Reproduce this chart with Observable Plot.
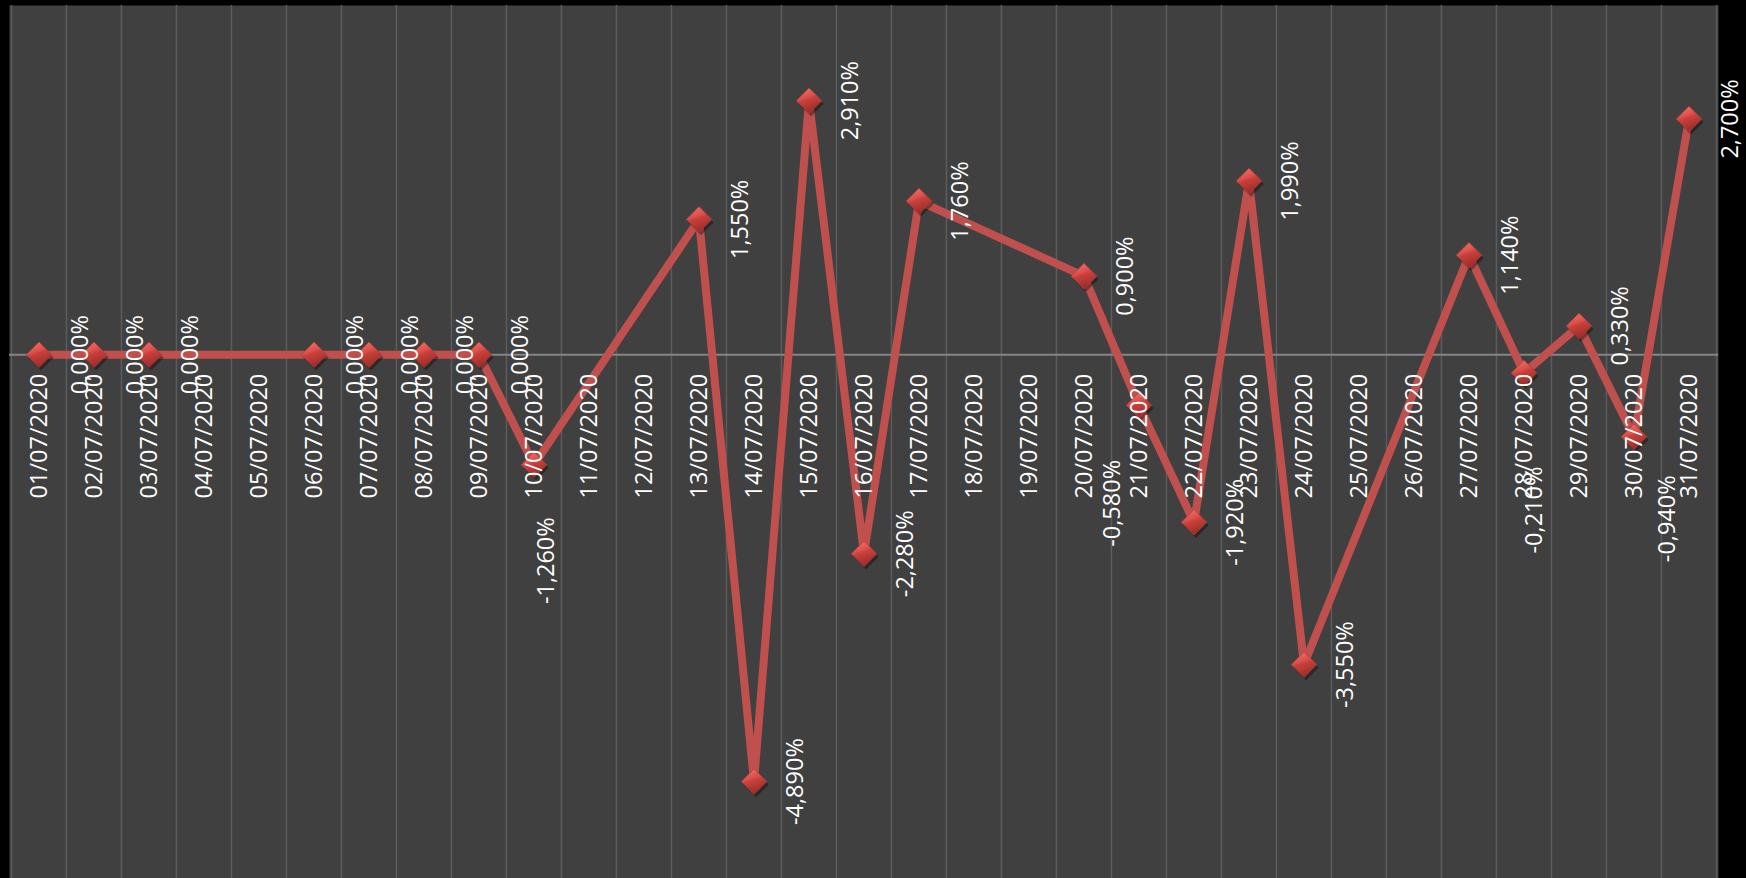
<!DOCTYPE html>
<html>
<head>
<meta charset="utf-8">
<script src="https://cdn.jsdelivr.net/npm/d3@7"></script>
<script src="https://cdn.jsdelivr.net/npm/@observablehq/plot@0.6"></script>
<style>
  html, body { margin: 0; padding: 0; background: #000; }
  #chart svg { display: block; }
</style>
</head>
<body>
<div id="chart"></div>
<script>
// Categories (dates) and series values (percent); null = no data that day
const dates = [
  "01/07/2020","02/07/2020","03/07/2020","04/07/2020","05/07/2020","06/07/2020",
  "07/07/2020","08/07/2020","09/07/2020","10/07/2020","11/07/2020","12/07/2020",
  "13/07/2020","14/07/2020","15/07/2020","16/07/2020","17/07/2020","18/07/2020",
  "19/07/2020","20/07/2020","21/07/2020","22/07/2020","23/07/2020","24/07/2020",
  "25/07/2020","26/07/2020","27/07/2020","28/07/2020","29/07/2020","30/07/2020",
  "31/07/2020"
];
const values = [
  0, 0, 0, null, null, 0,
  0, 0, 0, -1.26, null, null,
  1.55, -4.89, 2.91, -2.28, 1.76, null,
  null, 0.90, -0.58, -1.92, 1.99, -3.55,
  null, null, 1.14, -0.21, 0.33, -0.94,
  2.70
];
const yDomain = [-6, 4];

// layout: data labels that were dragged away from the default spot in the original
const labelShift = {
  "10/07/2020": [12, 96],
  "21/07/2020": [-27, 98],
  "28/07/2020": [10, 137],
  "30/07/2020": [33, 82]
};

const points = dates.map((d, i) => ({date: d, value: values[i]})).filter(p => p.value != null);
const fmt = v => v.toFixed(3).replace(".", ",") + "%";

const W = 1746, H = 878;
const mL = 9, mR = 28, mT = 5, mB = 0;
const bw = (W - mL - mR) / dates.length;
const red = "#C0504D";
const font = "'Open Sans', sans-serif";
const labelStyle = {rotate: -90, textAnchor: "middle", lineAnchor: "middle", fill: "#ffffff", fontSize: 23.5, fontFamily: font};

const plainLabels = points.filter(p => !(p.date in labelShift));
const shiftedLabelMarks = points.filter(p => p.date in labelShift).map(p =>
  Plot.text([p], {
    x: "date", y: "value", text: d => fmt(d.value), ...labelStyle,
    dx: labelShift[p.date][0], dy: labelShift[p.date][1]
  })
);

const plot = Plot.plot({
  width: W,
  height: H,
  marginLeft: mL,
  marginRight: mR,
  marginTop: mT,
  marginBottom: mB,
  style: {background: "#000", fontFamily: font},
  x: {type: "band", domain: dates, padding: 0, axis: null},
  y: {domain: yDomain, axis: null},
  marks: [
    Plot.frame({fill: "#404040", stroke: null}),
    // vertical gridlines at category boundaries
    Plot.ruleX(dates, {x: d => d, dx: -bw / 2, stroke: "#5c5c5c", strokeWidth: 1.5}),
    Plot.ruleX(dates.slice(-1), {x: d => d, dx: bw / 2, stroke: "#5c5c5c", strokeWidth: 1.5}),
    // horizontal axis line at zero
    Plot.ruleY([0], {stroke: "#858585", strokeWidth: 2}),
    // series line
    Plot.line(points, {x: "date", y: "value", stroke: red, strokeWidth: 8, strokeLinejoin: "round", strokeLinecap: "round"}),
    // marker shadows
    Plot.dot(points, {x: "date", y: "value", symbol: "diamond2", r: 11.5, fill: "rgba(0,0,0,0.35)", stroke: null, dx: 2, dy: 3}),
    // markers
    Plot.dot(points, {x: "date", y: "value", symbol: "diamond2", r: 11.5, fill: "url(#diamondGrad)", stroke: "#b03c39", strokeWidth: 0.8}),
    // category axis labels at zero line
    Plot.text(dates, {
      x: d => d, y: () => 0, text: d => d, rotate: -90, textAnchor: "end",
      dy: 19, fill: "#ffffff", fontSize: 23.5, fontFamily: font
    }),
    // data labels
    Plot.text(plainLabels, {
      x: "date", y: "value", text: d => fmt(d.value), ...labelStyle, dx: 41
    }),
    ...shiftedLabelMarks
  ]
});

// gradient for bevelled diamond markers
const ns = "http://www.w3.org/2000/svg";
const defs = document.createElementNS(ns, "defs");
defs.innerHTML = `
  <linearGradient id="diamondGrad" x1="0" y1="0" x2="0.35" y2="1">
    <stop offset="0%" stop-color="#f27a74"/>
    <stop offset="45%" stop-color="#dc4f4a"/>
    <stop offset="55%" stop-color="#c8403c"/>
    <stop offset="100%" stop-color="#9e2d2a"/>
  </linearGradient>`;
plot.insertBefore(defs, plot.firstChild);

document.getElementById("chart").appendChild(plot);
</script>
</body>
</html>
